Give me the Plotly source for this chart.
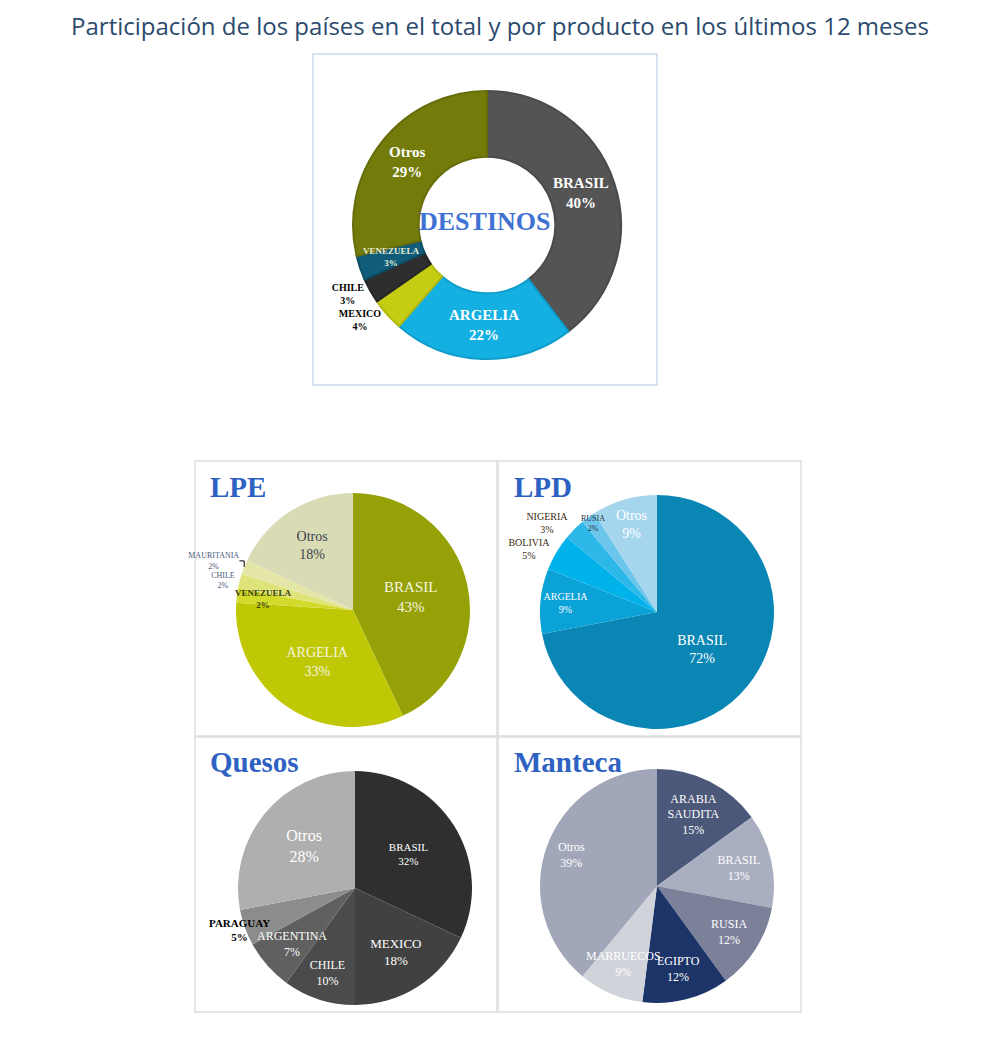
'''Participación de los países en el total y por producto (últimos 12 meses).
Un anillo de destinos arriba y cuatro tortas por producto abajo.'''

import math
import plotly.graph_objects as go

W, H = 1000, 1044
OFF = 8  # the page body adds an 8px margin

# --- datos ---
dest_labels = ['BRASIL', 'ARGELIA', 'MEXICO', 'CHILE', 'VENEZUELA', 'Otros']
dest_values = [40, 22, 4, 3, 3, 29]

lpe_labels = ['BRASIL', 'ARGELIA', 'VENEZUELA', 'CHILE', 'MAURITANIA', 'Otros']
lpe_values = [43, 33, 2, 2, 2, 18]

lpd_labels = ['BRASIL', 'ARGELIA', 'BOLIVIA', 'NIGERIA', 'RUSIA', 'Otros']
lpd_values = [72, 9, 5, 3, 2, 9]

quesos_labels = ['BRASIL', 'MEXICO', 'CHILE', 'ARGENTINA', 'PARAGUAY', 'Otros']
quesos_values = [32, 18, 10, 7, 5, 28]

manteca_labels = ['ARABIA<br>SAUDITA', 'BRASIL', 'RUSIA', 'EGIPTO', 'MARRUECOS', 'Otros']
manteca_values = [15, 13, 12, 12, 9, 39]

serif = 'Liberation Serif'

# centro y radio de cada torta, en pixeles de la imagen
DEST = (487, 225, 134)
LPE = (353, 610, 117)
LPD = (657, 612, 117)
QUESOS = (355, 888, 117)
MANTECA = (657, 886, 117)


def px(x, y):
    return (x - OFF) / W, 1 - (y - OFF) / H


def dom(geo):
    cx, cy, r = geo
    x0, y1 = px(cx - r, cy - r)
    x1, y0 = px(cx + r, cy + r)
    return dict(x=[x0, x1], y=[y0, y1])


fig = go.Figure()


def label_on_slice(values, labels, i, geo, frac, size, color, bold=False):
    # etiqueta puesta a mano sobre el ángulo medio del gajo
    cx, cy, r = geo
    ang = (sum(values[:i]) + values[i] / 2) / sum(values) * 2 * math.pi
    x, y = px(cx + frac * r * math.sin(ang), cy - frac * r * math.cos(ang))
    fig.add_annotation(text=f'{labels[i]}<br>{values[i]}%', x=x, y=y,
                       xref='paper', yref='paper', showarrow=False,
                       xanchor='center', yanchor='middle',
                       font=dict(family=serif, size=size, color=color,
                                 weight='bold' if bold else 'normal'),
                       align='center')


# anillo de destinos
fig.add_trace(go.Pie(
    labels=dest_labels, values=dest_values, sort=False, direction='clockwise',
    hole=0.51, domain=dom(DEST),
    marker=dict(colors=['#545454', '#14b0e2', '#c5cd12', '#2e2e2e', '#0f5d7a', '#737b0b'],
                line=dict(color=['#4a4a4a', '#0e9ccb', '#b3ba10', '#262626', '#0c4e66', '#666d0a'], width=2)),
    texttemplate='%{label}<br>%{value}%',
    textposition=['none', 'none', 'outside', 'outside', 'none', 'none'],
    textfont=dict(family=serif, size=10, color='black', weight='bold'),
    showlegend=False, hoverinfo='label+value',
))
label_on_slice(dest_values, dest_labels, 0, DEST, 0.74, 15, 'white', bold=True)
label_on_slice(dest_values, dest_labels, 1, DEST, 0.75, 15, 'white', bold=True)
label_on_slice(dest_values, dest_labels, 5, DEST, 0.76, 15, 'white', bold=True)
label_on_slice(dest_values, dest_labels, 4, DEST, 0.75, 9, '#e8ecd0', bold=True)

fig.add_trace(go.Pie(
    labels=lpe_labels, values=lpe_values, sort=False, direction='clockwise',
    domain=dom(LPE),
    marker=dict(colors=['#95a106', '#c0c806', '#d2da2c', '#dfe47a', '#e3e6a6', '#d9dbb4'],
                line=dict(width=0)),
    texttemplate='%{label}<br>%{value}%',
    textposition=['inside', 'inside', 'none', 'outside', 'outside', 'inside'],
    insidetextorientation='horizontal',
    textfont=dict(family=serif, size=[15, 14, 9, 8, 8, 14],
                  color=['#f4f6e0', '#f4f6e0', '#3a3f10', '#4a5a7a', '#4a5a7a', '#3c4450']),
    showlegend=False, hoverinfo='label+value',
))
label_on_slice(lpe_values, lpe_labels, 2, LPE, 0.77, 9, '#3a3f10', bold=True)

fig.add_trace(go.Pie(
    labels=lpd_labels, values=lpd_values, sort=False, direction='clockwise',
    domain=dom(LPD),
    marker=dict(colors=['#0a86b4', '#0ba2d8', '#00b2ea', '#2eb8ea', '#6cc6ec', '#a6d6ee'],
                line=dict(width=0)),
    texttemplate='%{label}<br>%{value}%',
    textposition=['inside', 'inside', 'outside', 'outside', 'none', 'inside'],
    insidetextorientation='horizontal',
    textfont=dict(family=serif, size=[14, 10, 10, 10, 8, 14],
                  color=['white', 'white', '#3a2a10', '#3a2a10', '#2a3040', 'white']),
    showlegend=False, hoverinfo='label+value',
))
label_on_slice(lpd_values, lpd_labels, 4, LPD, 0.93, 8, '#2a3040')

fig.add_trace(go.Pie(
    labels=quesos_labels, values=quesos_values, sort=False, direction='clockwise',
    domain=dom(QUESOS),
    marker=dict(colors=['#2f2f2f', '#414141', '#4b4b4b', '#606060', '#8c8c8c', '#afafaf'],
                line=dict(width=0)),
    texttemplate='%{label}<br>%{value}%',
    textposition=['inside', 'inside', 'inside', 'none', 'none', 'inside'],
    insidetextorientation='horizontal',
    textfont=dict(family=serif, size=[11, 13, 12, 12, 11, 16], color='white'),
    showlegend=False, hoverinfo='label+value',
))
label_on_slice(quesos_values, quesos_labels, 3, QUESOS, 0.72, 12, 'white')
label_on_slice(quesos_values, quesos_labels, 4, QUESOS, 1.05, 11, 'black', bold=True)

fig.add_trace(go.Pie(
    labels=manteca_labels, values=manteca_values, sort=False, direction='clockwise',
    domain=dom(MANTECA),
    marker=dict(colors=['#4b5879', '#a9aec0', '#7b8199', '#1d3468', '#d1d3db', '#a1a7b9'],
                line=dict(width=0)),
    texttemplate='%{label}<br>%{value}%',
    textposition=['inside', 'inside', 'inside', 'inside', 'none', 'none'],
    insidetextorientation='horizontal',
    textfont=dict(family=serif, size=12, color='white'),
    showlegend=False, hoverinfo='label+value',
))
label_on_slice(manteca_values, manteca_labels, 4, MANTECA, 0.73, 12, 'white')
label_on_slice(manteca_values, manteca_labels, 5, MANTECA, 0.78, 12, 'white')

# marcos
boxes = [(313, 54, 657, 385, '#cbd9ee'),
         (195, 461, 497, 736, '#dedede'), (498, 461, 801, 736, '#dedede'),
         (195, 737, 497, 1012, '#dedede'), (498, 737, 801, 1012, '#dedede')]
for x0, y0, x1, y1, c in boxes:
    bx0, by1 = px(x0, y0)
    bx1, by0 = px(x1, y1)
    fig.add_shape(type='rect', xref='paper', yref='paper',
                  x0=bx0, x1=bx1, y0=by0, y1=by1,
                  line=dict(color=c, width=1.5), layer='below')

# títulos de paneles
panel_titles = [('LPE', 208, 487), ('LPD', 512, 487), ('Quesos', 208, 762), ('Manteca', 512, 762)]
for t, x, y in panel_titles:
    ax, ay = px(x, y)
    fig.add_annotation(text=t, x=ax, y=ay, xref='paper', yref='paper',
                       xanchor='left', yanchor='middle', showarrow=False,
                       font=dict(family=serif, size=29, color='#2e62c2', weight='bold'))

dx, dy = px(485, 222)
fig.add_annotation(text='DESTINOS', x=dx, y=dy, xref='paper', yref='paper',
                   xanchor='center', yanchor='middle', showarrow=False,
                   font=dict(family=serif, size=26, color='#3f72d2', weight='bold'))

tx, ty = px(500, 27)
fig.update_layout(
    width=W, height=H, margin=dict(l=0, r=0, t=0, b=0),
    paper_bgcolor='white', plot_bgcolor='white',
    title=dict(text='Participación de los países en el total y por producto en los últimos 12 meses',
               x=tx, xanchor='center', y=ty, yanchor='middle',
               font=dict(family='Open Sans', size=24, color='#2b4a6e')),
)

fig.write_html('out.html')
